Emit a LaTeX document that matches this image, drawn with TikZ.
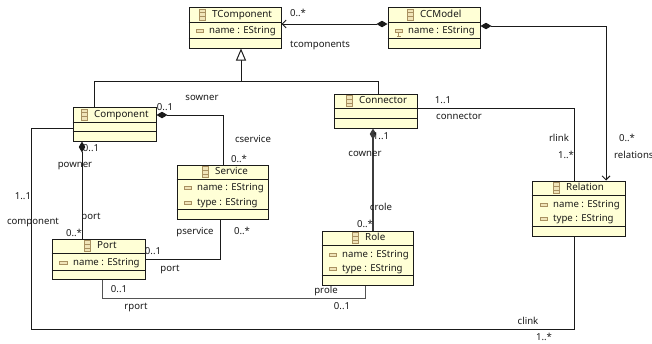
\documentclass[tikz,border=0pt]{standalone}
\usepackage{fontspec}
\setmainfont{Noto Sans}
\usetikzlibrary{arrows.meta}
\definecolor{boxfill}{HTML}{FFFFD6}
\definecolor{iconc}{HTML}{A89060}
\definecolor{iconf}{HTML}{F0E4B8}
\definecolor{inkc}{HTML}{1A1A1A}
\tikzset{
  umlbox/.style={draw=inkc,fill=boxfill,line width=1pt,inner sep=0pt,rectangle},
  txt/.style={inner sep=0pt,font=\fontsize{9.6pt}{11pt}\selectfont,text=inkc,text height=7.4pt,text depth=2pt},
  titlet/.style={txt,anchor=west,font=\fontsize{9.8pt}{11pt}\selectfont},
  attrt/.style={txt,anchor=west},
  lab/.style={txt,anchor=center},
  sepl/.style={draw=inkc,line width=.9pt},
  conn/.style={draw=inkc,line width=1pt},
  compose/.style={{Diamond[length=11pt,width=6.5pt]}-},
  composearrow/.style={{Diamond[length=11pt,width=6.5pt]}-{Straight Barb[length=4pt,width=8pt,line width=.9pt]}},
  inherit/.style={{Triangle[open,length=12pt,width=10pt,fill=white,line width=1pt]}-},
  classicon/.style={draw=iconc,fill=iconf,line width=.8pt},
  attricon/.style={draw=iconc,fill=iconf,line width=.8pt}
}
% name x1 y1 x2 y2 sep1 sep2 title iconx
\newcommand{\umlclass}[9]{%
  \pgfmathsetmacro{\cxx}{(#2+#4)/2}\pgfmathsetmacro{\cyy}{(#3+#5)/2}%
  \pgfmathsetmacro{\cww}{#4-#2}\pgfmathsetmacro{\chh}{#5-#3}%
  \node[umlbox,minimum width=\cww pt,minimum height=\chh pt] (#1) at (\cxx,\cyy) {};
  \draw[sepl] (#1.west |- 0,#6) -- (#1.east |- 0,#6);
  \draw[sepl] (#1.west |- 0,#7) -- (#1.east |- 0,#7);
  \pgfmathsetmacro{\tyy}{(#3+#6)/2}%
  \draw[classicon] (#9,\tyy-5.5) rectangle ++(6,11);
  \draw[iconc,line width=.6pt] (#9,\tyy-2) -- ++(6,0) (#9,\tyy+2) -- ++(6,0);
  \node[titlet] (#1t) at (#9+13,\tyy) {#8};
}
% node-name iconx icony textx text
\newcommand{\umlattr}[5]{%
  \draw[attricon] (#2,#3-1.6) rectangle ++(7.5,3.2);
  \node[attrt] (#1) at (#4,#3) {#5};
}
\begin{document}
\begin{tikzpicture}[x=1pt,y=-1pt]
\useasboundingbox (0,0) rectangle (652,343);
\clip (0,0) rectangle (652,343);
\fill[white] (0,0) rectangle (652,343);

\umlclass{tc}{189}{7}{281}{48}{22}{38}{TComponent}{199}
\umlclass{cc}{388}{7}{480}{48}{22}{38}{CCModel}{407}
\umlclass{comp}{73}{107}{156}{141}{122}{131}{Component}{81}
\umlclass{serv}{177}{165}{268}{219}{179}{209}{Service}{202}
\umlclass{port}{52}{239}{145}{279}{253}{270}{Port}{84}
\umlclass{conr}{334}{94}{417}{128}{108}{118}{Connector}{346}
\umlclass{role}{322}{231}{413}{285}{245}{275}{Role}{352}
\umlclass{rel}{532}{181}{625}{236}{195}{226}{Relation}{553}

\umlattr{tcA}{196}{31}{209}{name : EString}
\node[attrt] (ccA) at (408,31) {name : EString};
\draw[attricon] (395,29.4) rectangle ++(7.5,3);
\draw[iconc,line width=.7pt] (398.7,32.4) -- ++(0,3.6) (397,36) -- ++(3.6,0);
\umlattr{svA}{184}{188}{197}{name : EString}
\umlattr{svB}{184}{203}{197}{type : EString}
\umlattr{poA}{59.5}{263}{73}{name : EString}
\umlattr{roA}{329}{255}{342}{name : EString}
\umlattr{roB}{329}{269}{342}{type : EString}
\umlattr{reA}{540}{205}{553}{name : EString}
\umlattr{reB}{540}{219}{553}{type : EString}

% connectors
\coordinate (busL) at (94.5,81);
\coordinate (busM) at (241,81);
\coordinate (busR) at (378,81);
\draw[conn,inherit] (tc.south -| busM) -- (busM);
\draw[conn] (comp.north -| busL) -- (busL) -- (busR) -- (conr.north -| busR);

\draw[conn,composearrow] (cc.west |- 0,24) -- (tc.east |- 0,24);
\coordinate (ccR) at (606,26);
\draw[conn,composearrow] (cc.east |- ccR) -- (ccR) -- (rel.north -| ccR);

\coordinate (csv) at (223,115);
\draw[conn,compose] (comp.east |- csv) -- (csv) -- (serv.north -| csv);
\coordinate (cpo) at (82,200);
\draw[conn,compose] (comp.south -| cpo) -- (port.north -| cpo);

\coordinate (bigA) at (31,128);
\coordinate (bigB) at (31,329);
\coordinate (bigC) at (574,329);
\draw[conn] (comp.west |- bigA) -- (bigA) -- (bigB) -- (bigC) -- (rel.south -| bigC);

\coordinate (spA) at (220.5,259);
\draw[conn] (serv.south -| spA) -- (spA) -- (port.east |- spA);

\coordinate (prA) at (102,298);
\coordinate (prB) at (365,298);
\draw[conn,draw=inkc!75] (port.south -| prA) -- (prA) -- (prB) -- (role.south -| prB);

\coordinate (crA) at (373,180);
\draw[conn,line width=1.4pt,draw=inkc!85,compose] (conr.south -| crA) -- (role.north -| crA);

\coordinate (clA) at (574,108);
\draw[conn] (conr.east |- clA) -- (clA) -- (rel.north -| clA);

% labels
\node[lab] (l1) at (298,14) {0..*};
\node[lab] (l2) at (320,45) {tcomponents};
\node[lab] (l3) at (202,98) {sowner};
\node[lab] (l4) at (165,108) {0..1};
\node[lab] (l5) at (253,140) {cservice};
\node[lab] (l6) at (239,160) {0..*};
\node[lab] (l7) at (91,149) {0..1};
\node[lab] (l8) at (75,165) {powner};
\node[lab] (l9) at (23,197) {1..1};
\node[lab] (l10) at (91,217) {port};
\node[lab] (l11) at (33,222) {component};
\node[lab] (l12) at (74,234) {0..*};
\node[lab] (l13) at (153,252) {0..1};
\node[lab] (l14) at (170,269) {port};
\node[lab] (l15) at (195,232) {pservice};
\node[lab] (l16) at (242,232) {0..*};
\node[lab] (l17) at (119,290) {0..1};
\node[lab] (l18) at (136,307) {rport};
\node[lab] (l19) at (326,291) {prole};
\node[lab] (l20) at (342,307) {0..1};
\node[lab] (l21) at (528,322) {clink};
\node[lab] (l22) at (544,337.5) {1..*};
\node[lab] (l23) at (443,101) {1..1};
\node[lab] (l24) at (459,117) {connector};
\node[lab] (l25) at (381,137) {1..1};
\node[lab] (l26) at (365,154) {cowner};
\node[lab] (l27) at (381,208) {crole};
\node[lab] (l28) at (365,225) {0..*};
\node[lab] (l29) at (559,139) {rlink};
\node[lab] (l30) at (566,156) {1..*};
\node[lab] (l31) at (627,139) {0..*};
\node[txt,anchor=west] (l32) at (614,156) {relations};
\end{tikzpicture}
\end{document}
